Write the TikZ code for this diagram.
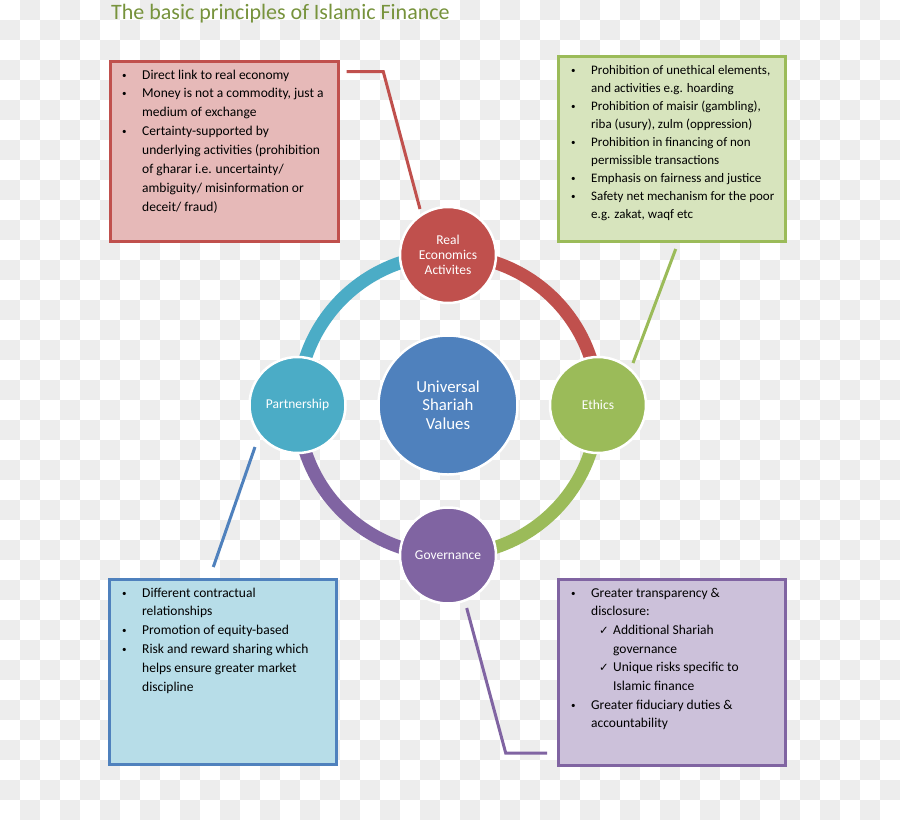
\documentclass[tikz,border=0pt]{standalone}
\usepackage{fontspec}
\setmainfont{Carlito}
\newfontfamily\symf{DejaVu Sans}
\definecolor{cred}{HTML}{C0504D}
\definecolor{credf}{HTML}{E6B9B8}
\definecolor{cgreen}{HTML}{9BBB59}
\definecolor{cgreenf}{HTML}{D7E4BD}
\definecolor{cblue}{HTML}{4F81BD}
\definecolor{cbluef}{HTML}{B7DDE8}
\definecolor{cteal}{HTML}{4BACC6}
\definecolor{cpurple}{HTML}{8064A2}
\definecolor{cpurplef}{HTML}{CCC1DA}
\definecolor{ctitle}{HTML}{77933C}
\definecolor{checker}{HTML}{EDEDED}
\newcommand\bu{\makebox[20pt][l]{\raisebox{1pt}{\fontsize{9}{9}\selectfont •}}}
\newcommand\ind{\hspace*{20pt}}
\newcommand\ck{\makebox[22pt][l]{\hspace{8pt}{\symf\fontsize{11.5}{11.5}\selectfont ✓}}}
\begin{document}
\begin{tikzpicture}[x=1pt,y=-1pt,
  infobox/.style={draw, line width=3pt, anchor=north west, inner sep=0pt, outer sep=0pt},
  boxtext/.style={anchor=base west, inner sep=0pt, text=black, font=\fontsize{13.5}{18.9}\selectfont},
  pcircle/.style={circle, draw=white, line width=2.5pt, inner sep=0pt, minimum size=96pt, text=white, align=center, font=\fontsize{13.5}{15}\selectfont},
  ringarc/.style={line width=13pt},
  conn/.style={line width=3pt}]
\useasboundingbox (0,0) rectangle (900,820);
% checkerboard background
\fill[white] (0,0) rectangle (900,820);
\begin{scope}
\clip (0,0) rectangle (900,820);
\foreach \j in {0,...,40}{
  \foreach \i in {0,...,22}{
    \fill[checker] ({(2*\i+mod(\j+1,2))*20},{\j*20}) rectangle ++(20,20);
  }
}
\end{scope}
% title
\node[anchor=base west, inner sep=0pt, text=ctitle, font=\fontsize{22}{26}\selectfont] (title) at (111,19) {The basic principles of Islamic Finance};
% ring
\coordinate (cen) at (448,405);
\draw[ringarc, cteal] ([shift={(180:150)}]cen) arc[start angle=180, end angle=270, radius=150];
\draw[ringarc, cred] ([shift={(270:150)}]cen) arc[start angle=270, end angle=360, radius=150];
\draw[ringarc, cgreen] ([shift={(0:150)}]cen) arc[start angle=0, end angle=90, radius=150];
\draw[ringarc, cpurple] ([shift={(90:150)}]cen) arc[start angle=90, end angle=180, radius=150];
% circles
\node[pcircle, fill=cblue, minimum size=139pt, font=\fontsize{16.8}{18.5}\selectfont] (usv) at (cen) {Universal\\Shariah\\Values};
\node[pcircle, fill=cred] (real) at (448,255) {Real\\Economics\\Activites};
\node[pcircle, fill=cgreen] (eth) at (598,405) {Ethics};
\node[pcircle, fill=cteal] (part) at (297.5,405) {Partnership};
\node[pcircle, fill=cpurple] (gov) at (448,555.5) {Governance};
% boxes
\node[infobox, draw=cred, fill=credf, minimum width=228pt, minimum height=180pt] (rbox) at (110.5,61.5) {};
\node[infobox, draw=cgreen, fill=cgreenf, minimum width=227pt, minimum height=185pt] (gbox) at (558.5,56.5) {};
\node[infobox, draw=cblue, fill=cbluef, minimum width=227pt, minimum height=185pt] (bbox) at (109.5,579.5) {};
\node[infobox, draw=cpurple, fill=cpurplef, minimum width=227pt, minimum height=186pt] (pbox) at (558.5,579.5) {};
% box texts
\node[boxtext] (rtext) at (122,79) {\begin{tabular}[t]{@{}l@{}}
\bu Direct link to real economy\\
\bu Money is not a commodity, just a\\
\ind medium of exchange\\
\bu Certainty-supported by\\
\ind underlying activities (prohibition\\
\ind of gharar i.e. uncertainty/\\
\ind ambiguity/ misinformation or\\
\ind deceit/ fraud)
\end{tabular}};
\node[boxtext, font=\fontsize{13}{18}\selectfont] (gtext) at (571,74) {\begin{tabular}[t]{@{}l@{}}
\bu Prohibition of unethical elements,\\
\ind and activities e.g. hoarding\\
\bu Prohibition of maisir (gambling),\\
\ind riba (usury), zulm (oppression)\\
\bu Prohibition in financing of non\\
\ind permissible transactions\\
\bu Emphasis on fairness and justice\\
\bu Safety net mechanism for the poor\\
\ind e.g. zakat, waqf etc
\end{tabular}};
\node[boxtext, font=\fontsize{13.5}{18.8}\selectfont] (btext) at (122,597) {\begin{tabular}[t]{@{}l@{}}
\bu Different contractual\\
\ind relationships\\
\bu Promotion of equity-based\\
\bu Risk and reward sharing which\\
\ind helps ensure greater market\\
\ind discipline
\end{tabular}};
\node[boxtext, font=\fontsize{13.5}{18.7}\selectfont] (ptext) at (571,597) {\begin{tabular}[t]{@{}l@{}}
\bu Greater transparency \&\\
\ind disclosure:\\
\ind\ck Additional Shariah\\
\ind\hspace*{22pt}governance\\
\ind\ck Unique risks specific to\\
\ind\hspace*{22pt}Islamic finance\\
\bu Greater fiduciary duties \&\\
\ind accountability
\end{tabular}};
% connectors
\coordinate (r1) at (346.7,71.7);
\coordinate (r2) at (383.3,71.7);
\draw[conn, cred] (r1) -- (r2) -- ([shift={(-28,-46)}]real.center);
\coordinate (g1) at (675.7,249);
\draw[conn, cgreen] (g1) -- ([shift={(35,-42)}]eth.center);
\coordinate (b1) at (213.3,567);
\draw[conn, cblue] (b1) -- ([shift={(-42.5,42)}]part.center);
\coordinate (p2) at (505.7,753);
\coordinate (p3) at (547,753);
\draw[conn, cpurple] ([shift={(18.7,52.5)}]gov.center) -- (p2) -- (p3);
\end{tikzpicture}
\end{document}
